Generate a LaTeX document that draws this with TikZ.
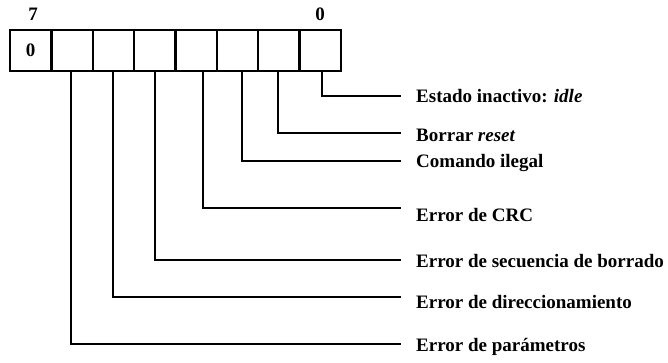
\documentclass[tikz,border=0pt]{standalone}
\usepackage{fontspec}
\setmainfont{Liberation Serif}
\begin{document}
\begin{tikzpicture}[x=1pt,y=-1pt,
  cell/.style={draw,line width=2.4pt,minimum width=41.375pt,minimum height=41pt,inner sep=0pt},
  lab/.style={anchor=west,inner sep=0pt,font=\bfseries\fontsize{19}{22}\selectfont},
  bitlab/.style={inner sep=0pt,font=\bfseries\fontsize{19}{22}\selectfont},
  conn/.style={line width=2pt}]
\useasboundingbox (0,0) rectangle (668,362);
\foreach \i in {7,...,0}{
  \node[cell] (b\i) at ({10+41.375*(7-\i+0.5)},50.5) {};
}
\node[bitlab] at (b7.center) {0};
\node[bitlab] (t7) at (33,14) {7};
\node[bitlab] (t0) at (320,14) {0};
% label end points
\coordinate (e0) at (401,96);
\coordinate (e1) at (401,133);
\coordinate (e2) at (401,161);
\coordinate (e3) at (401,208);
\coordinate (e4) at (401,260);
\coordinate (e5) at (401,297);
\coordinate (e6) at (401,344);
\node[lab] (l0) at (416,96) {Estado inactivo: \textit{idle}};
\node[lab] (l1) at (416,135) {Borrar \textit{reset}};
\node[lab] (l2) at (416,163) {Comando ilegal};
\node[lab] (l3) at (416,215) {Error de CRC};
\node[lab] (l4) at (416,261) {Error de secuencia de borrado};
\node[lab] (l5) at (416,302) {Error de direccionamiento};
\node[lab] (l6) at (416,347) {Error de parámetros};
\draw[conn] ([xshift=1.5pt]b0.south) |- (e0);
\draw[conn] ([xshift=-0.5pt]b1.south) |- (e1);
\draw[conn] ([xshift=4pt]b2.south) |- (e2);
\draw[conn] ([xshift=6.5pt]b3.south) |- (e3);
\draw[conn] ([xshift=0.5pt]b4.south) |- (e4);
\draw[conn] ([xshift=0pt]b5.south) |- (e5);
\draw[conn] ([xshift=-1pt]b6.south) |- (e6);
\end{tikzpicture}
\end{document}
